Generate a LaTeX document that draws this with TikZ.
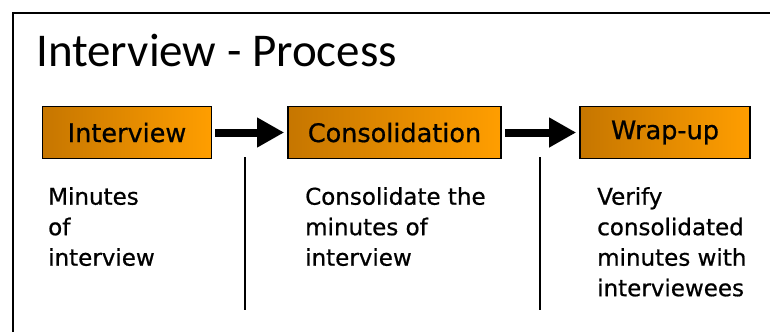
\documentclass[tikz,border=0pt]{standalone}
\usepackage{fontspec}
\setmainfont{DejaVu Sans}[FakeBold=0.7]
\newfontfamily\titlefont{Carlito}
\usetikzlibrary{arrows.meta}
\definecolor{stepdark}{RGB}{198,118,0}
\definecolor{steplight}{RGB}{255,158,0}
\tikzset{
  stepbox/.style={draw=black, line width=1.6pt, left color=stepdark, right color=steplight,
    minimum height=52pt, inner sep=0pt, font=\fontsize{25.5}{25.5}\selectfont},
  flow/.style={line width=8pt, -{Triangle[length=27pt,width=28pt]}, shorten <=3pt, shorten >=3pt},
  divider/.style={line width=1.6pt},
  frame/.style={line width=2pt},
  notes/.style={anchor=north west, align=left, inner sep=0pt,
    font=\fontsize{23}{30.5}\selectfont},
}
\begin{document}
\begin{tikzpicture}[x=1pt,y=-1pt]
\useasboundingbox (0,0) rectangle (770,332);
% open frame around the slide
\draw[frame] (13,332) -- (13,13) -- (770,13);
% title
\node[anchor=base west, inner sep=0pt, font=\titlefont\fontsize{47}{47}\selectfont] (title) at (36,66) {Interview - Process};
% process steps
\node[stepbox, minimum width=169pt] (s1) at (127,132.5) {Interview};
\node[stepbox, minimum width=213pt] (s2) at (394.5,132.5) {Consolidation};
\node[stepbox, minimum width=170pt] (s3) at (665,132.5) {Wrap-up};
\draw[flow] (s1) -- (s2);
\draw[flow] (s2) -- (s3);
% column dividers
\coordinate (d1t) at (245,157);
\coordinate (d1b) at (245,310);
\coordinate (d2t) at (540,157);
\coordinate (d2b) at (540,310);
\draw[divider] (d1t) -- (d1b);
\draw[divider] (d2t) -- (d2b);
% step descriptions
\node[notes] (n1) at (48,187) {Minutes\\of\\interview};
\node[notes] (n2) at (305,187) {Consolidate the\\minutes of\\interview};
\node[notes] (n3) at (597,187) {Verify\\consolidated\\minutes with\\interviewees};
\end{tikzpicture}
\end{document}
